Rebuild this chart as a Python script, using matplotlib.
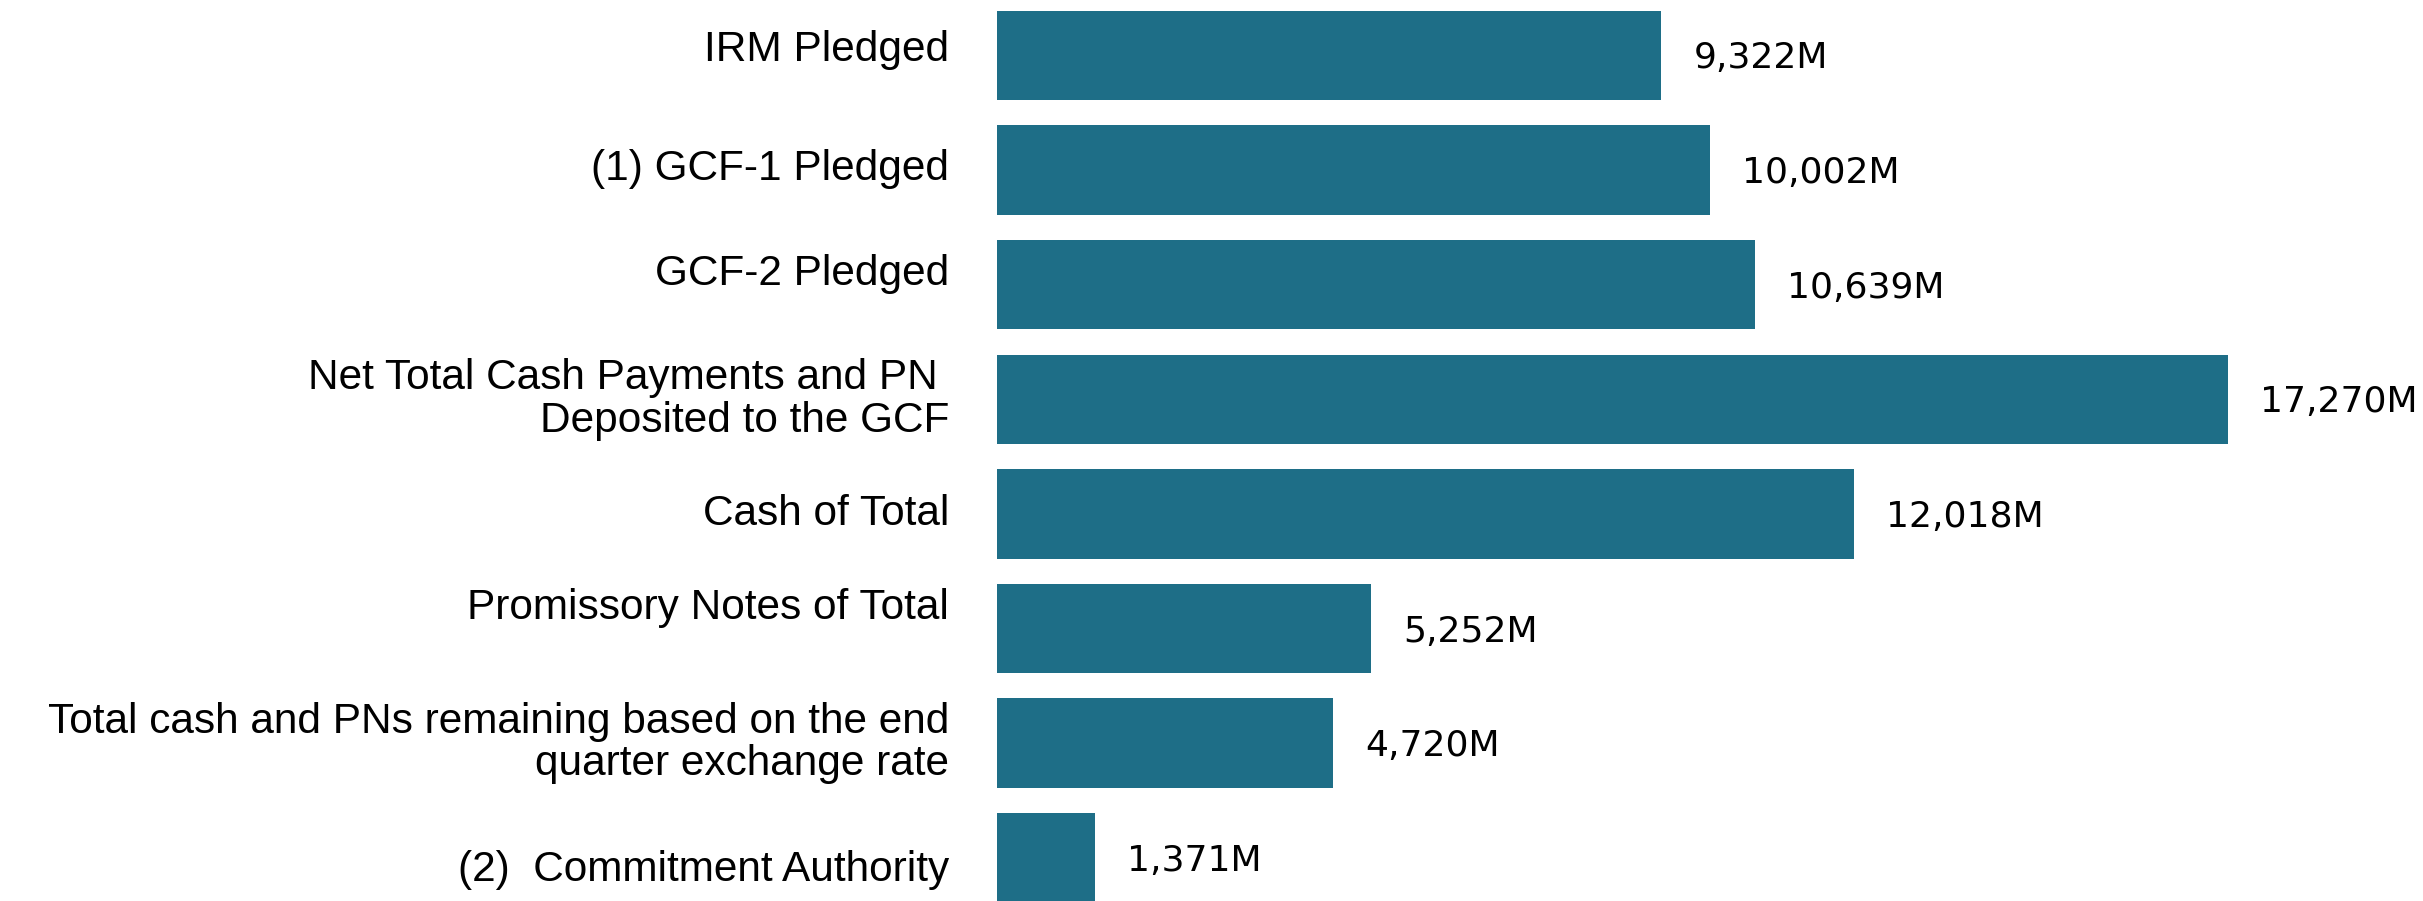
import matplotlib
matplotlib.use("Agg")
import matplotlib.pyplot as plt

categories = [
    "IRM Pledged",
    "(1) GCF-1 Pledged",
    "GCF-2 Pledged",
    "Net Total Cash Payments and PN \nDeposited to the GCF",
    "Cash of Total",
    "Promissory Notes of Total",
    "Total cash and PNs remaining based on the end\nquarter exchange rate",
    "(2)  Commitment Authority",
]
values = [9322, 10002, 10639, 17270, 12018, 5252, 4720, 1371]
value_labels = ["9,322M", "10,002M", "10,639M", "17,270M", "12,018M", "5,252M", "4,720M", "1,371M"]

# small vertical nudges (in pixels, positive = down) for category labels
label_nudge_px = [-5, -1, -11, 0, 0, -21, 0, 12]

W, H = 2423, 901
fig = plt.figure(figsize=(W / 100, H / 100), dpi=100)
left_px = 997
ax = fig.add_axes([left_px / W, 0, (W - left_px) / W, 1])
px_per_unit = 1231 / 17270
ax.set_xlim(0, (W - left_px) / px_per_unit)
pitch = 114.6
ax.set_ylim((H - 55.5) / pitch, -55.5 / pitch)
ax.axis("off")

color = "#1e6e87"
ypos = list(range(len(categories)))
ax.barh(ypos, values, height=0.78, color=color)

for y, v, lab in zip(ypos, values, value_labels):
    ax.text(v + 32 / px_per_unit, y + 3 / pitch, lab, ha="left", va="center",
            fontsize=26, family="DejaVu Sans", color="black")

for y, cat, nud in zip(ypos, categories, label_nudge_px):
    ax.text(-48 / px_per_unit, y + nud / pitch, cat, ha="right", va="center",
            fontsize=30.5, family="Liberation Sans", color="black",
            linespacing=1.08, clip_on=False)

fig.savefig("out.png", dpi=100)
